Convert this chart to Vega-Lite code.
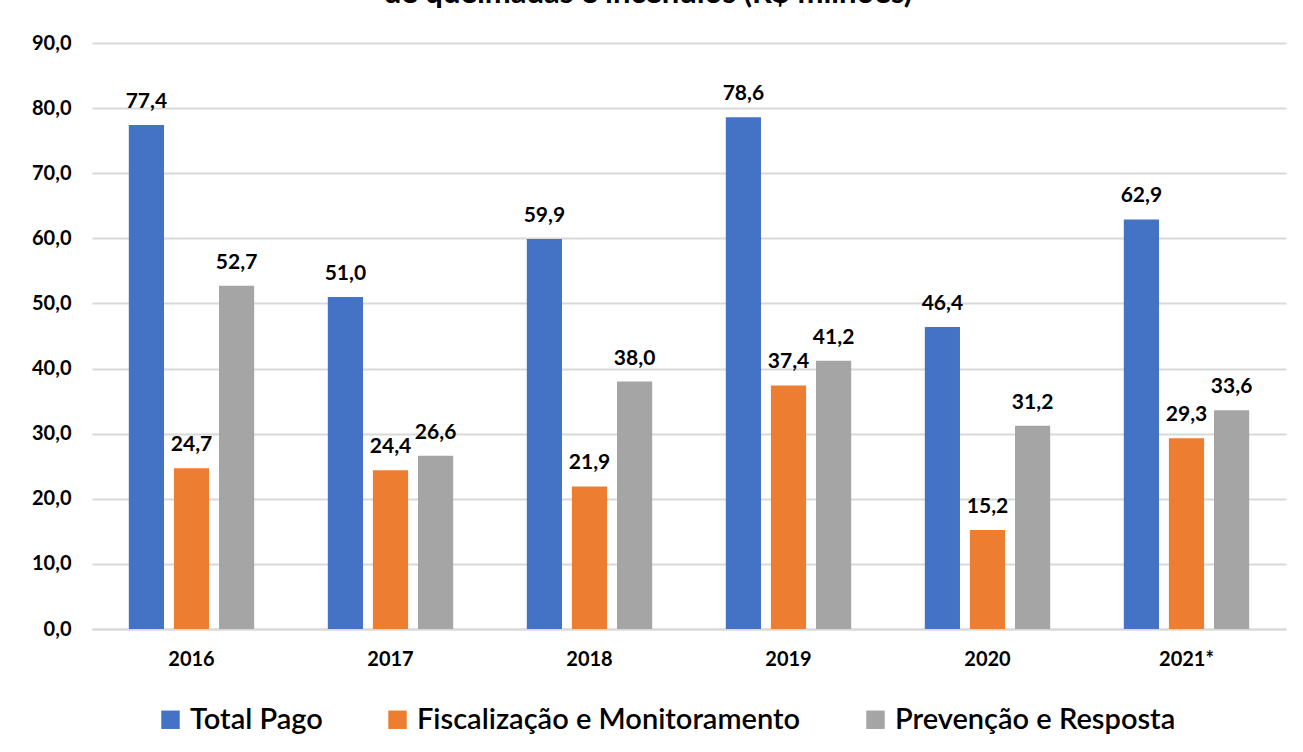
{
  "$schema": "https://vega.github.io/schema/vega-lite/v6.json",
  "autosize": "none",
  "width": 1194,
  "height": 586,
  "padding": {"left": 92, "top": 43, "right": 17, "bottom": 123},
  "background": "white",
  "title": {
    "text": "de queimadas e incêndios (R$ milhões)",
    "fontSize": 31,
    "font": "Lato",
    "fontWeight": "bold",
    "color": "#000000",
    "anchor": "middle",
    "frame": "group",
    "baseline": "alphabetic",
    "offset": 27,
    "dy": 28,
    "dx": -41
  },
  "data": {
    "values": [
      {"ano": "2016", "serie": "Total Pago", "valor": 77.4},
      {"ano": "2016", "serie": "Fiscalização e Monitoramento", "valor": 24.7},
      {"ano": "2016", "serie": "Prevenção e Resposta", "valor": 52.7},
      {"ano": "2017", "serie": "Total Pago", "valor": 51.0},
      {"ano": "2017", "serie": "Fiscalização e Monitoramento", "valor": 24.4},
      {"ano": "2017", "serie": "Prevenção e Resposta", "valor": 26.6},
      {"ano": "2018", "serie": "Total Pago", "valor": 59.9},
      {"ano": "2018", "serie": "Fiscalização e Monitoramento", "valor": 21.9},
      {"ano": "2018", "serie": "Prevenção e Resposta", "valor": 38.0},
      {"ano": "2019", "serie": "Total Pago", "valor": 78.6},
      {"ano": "2019", "serie": "Fiscalização e Monitoramento", "valor": 37.4},
      {"ano": "2019", "serie": "Prevenção e Resposta", "valor": 41.2},
      {"ano": "2020", "serie": "Total Pago", "valor": 46.4},
      {"ano": "2020", "serie": "Fiscalização e Monitoramento", "valor": 15.2},
      {"ano": "2020", "serie": "Prevenção e Resposta", "valor": 31.2},
      {"ano": "2021*", "serie": "Total Pago", "valor": 62.9},
      {"ano": "2021*", "serie": "Fiscalização e Monitoramento", "valor": 29.3},
      {"ano": "2021*", "serie": "Prevenção e Resposta", "valor": 33.6}
    ]
  },
  "encoding": {
    "x": {
      "field": "ano",
      "type": "nominal",
      "sort": null,
      "title": null,
      "scale": {"paddingInner": 0.37, "paddingOuter": 0.185},
      "axis": {
        "labelAngle": 0,
        "labelFont": "Lato",
        "labelFontSize": 20,
        "labelFontWeight": "bold",
        "labelColor": "#000000",
        "labelPadding": 20,
        "ticks": false,
        "domainColor": "#D9D9D9",
        "domainWidth": 2,
        "grid": false
      }
    },
    "xOffset": {
      "field": "serie",
      "type": "nominal",
      "sort": ["Total Pago", "Fiscalização e Monitoramento", "Prevenção e Resposta"],
      "scale": {"paddingInner": 0.22, "paddingOuter": 0}
    },
    "y": {
      "field": "valor",
      "type": "quantitative",
      "title": null,
      "scale": {"domain": [0, 90], "nice": false},
      "axis": {
        "values": [0, 10, 20, 30, 40, 50, 60, 70, 80, 90],
        "format": ".1f",
        "labelFont": "Lato",
        "labelFontSize": 20,
        "labelFontWeight": "bold",
        "labelColor": "#000000",
        "labelPadding": 21,
        "ticks": false,
        "domain": false,
        "gridColor": "#D9D9D9",
        "gridWidth": 2
      }
    }
  },
  "layer": [
    {
      "mark": {"type": "bar"},
      "encoding": {
        "color": {
          "field": "serie",
          "type": "nominal",
          "sort": ["Total Pago", "Fiscalização e Monitoramento", "Prevenção e Resposta"],
          "scale": {
            "domain": ["Total Pago", "Fiscalização e Monitoramento", "Prevenção e Resposta"],
            "range": ["#4472C4", "#ED7D31", "#A5A5A5"]
          },
          "legend": {
            "title": null,
            "orient": "none",
            "legendX": 64,
            "legendY": 662,
            "direction": "horizontal",
            "symbolType": "square",
            "symbolSize": 340,
            "symbolStrokeWidth": 0,
            "labelFont": "Lato",
            "labelFontSize": 29,
            "labelFontWeight": 600,
            "labelColor": "#000000",
            "labelOffset": 5,
            "labelLimit": 0,
            "columnPadding": 60
          }
        }
      }
    },
    {
      "mark": {
        "type": "text",
        "baseline": "bottom",
        "dy": -13,
        "font": "Lato",
        "fontSize": 21,
        "fontWeight": "bold",
        "color": "#000000"
      },
      "encoding": {
        "text": {"field": "valor", "type": "quantitative", "format": ".1f"}
      }
    }
  ],
  "config": {
    "locale": {
      "number": {
        "decimal": ",",
        "thousands": ".",
        "grouping": [3],
        "currency": ["R$", ""]
      }
    },
    "view": {"stroke": null}
  }
}
